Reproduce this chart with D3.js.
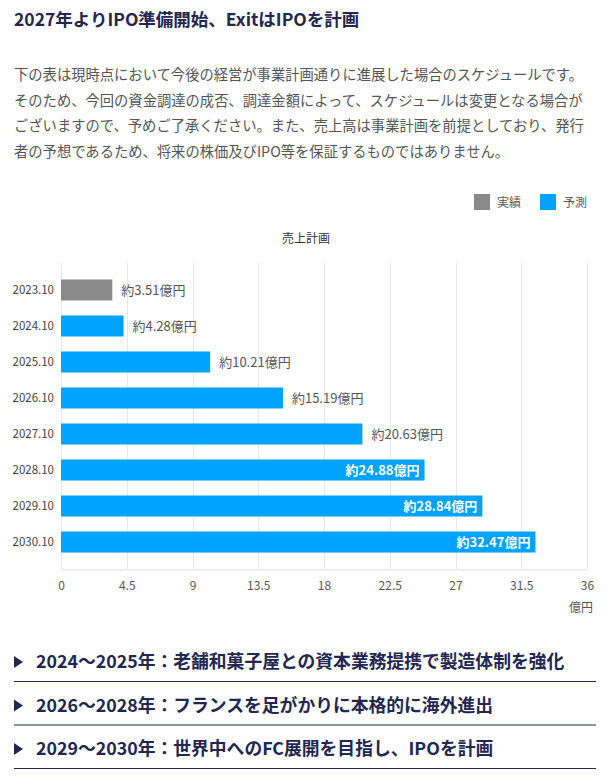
<!DOCTYPE html>
<html>
<head>
<meta charset="utf-8">
<script src="https://cdn.jsdelivr.net/npm/d3@7"></script>
<style>
  html, body { margin: 0; padding: 0; background: #fff; }
  svg { display: block; font-family: "Noto Sans CJK JP", "Noto Sans", sans-serif; }
</style>
</head>
<body>
<svg id="chart" width="615" height="781"></svg>
<script>
var categories = ["2023.10", "2024.10", "2025.10", "2026.10", "2027.10", "2028.10", "2029.10", "2030.10"]
var values = [3.51, 4.28, 10.21, 15.19, 20.63, 24.88, 28.84, 32.47]
var kinds = ["実績", "予測", "予測", "予測", "予測", "予測", "予測", "予測"]
var xTicks = [0, 4.5, 9, 13.5, 18, 22.5, 27, 31.5, 36]
var legendItems = ["実績", "予測"]

var titleText = "2027年よりIPO準備開始、ExitはIPOを計画"
var noteLines = [
  "下の表は現時点において今後の経営が事業計画通りに進展した場合のスケジュールです。",
  "そのため、今回の資金調達の成否、調達金額によって、スケジュールは変更となる場合が",
  "ございますので、予めご了承ください。また、売上高は事業計画を前提としており、発行",
  "者の予想であるため、将来の株価及びIPO等を保証するものではありません。"
]
var chartTitle = "売上計画"
var unitLabel = "億円"
var milestones = [
  "2024～2025年：老舗和菓子屋との資本業務提携で製造体制を強化",
  "2026～2028年：フランスを足がかりに本格的に海外進出",
  "2029～2030年：世界中へのFC展開を目指し、IPOを計画"
]

main()

function main() {
  var NAVY = "#23264f"
  var TEXT = "#555"
  var GRID = "#e6e6e6"
  var colors = { "実績": "#8a8a8a", "予測": "#00a2ff" }

  var LEFT = 61, RIGHT = 587, TOP = 263, BOTTOM = 569
  var INSIDE_MIN = 22

  var svg = d3.select("#chart")

  // heading + note
  svg.append("text")
      .attr("x", 14).attr("y", 26)
      .attr("fill", NAVY)
      .attr("font-size", 17.5)
      .attr("font-weight", "bold")
      .text(titleText)

  svg.selectAll(".note").data(noteLines).enter()
    .append("text")
      .attr("class", "note")
      .attr("x", 14)
      .attr("y", function(d, i) { return 80 + i * 25.7 })
      .attr("fill", TEXT)
      .attr("font-size", 14.3)
      .text(function(d) { return d })

  // legend
  var legend = svg.selectAll(".legend").data(legendItems).enter()
    .append("g")
      .attr("class", "legend")
      .attr("transform", function(d, i) { return "translate(" + (474 + i * 66) + ",194)" })
  legend.append("rect")
      .attr("width", 16).attr("height", 16)
      .attr("fill", function(d) { return colors[d] })
  legend.append("text")
      .attr("x", 23).attr("y", 12.5)
      .attr("fill", TEXT)
      .attr("font-size", 12)
      .text(function(d) { return d })

  svg.append("text")
      .attr("x", 306).attr("y", 243)
      .attr("text-anchor", "middle")
      .attr("fill", "#333")
      .attr("font-size", 12)
      .text(chartTitle)

  var x = d3.scaleLinear().domain([0, 36]).range([LEFT, RIGHT])
  var y = d3.scaleBand().domain(categories).range([TOP, BOTTOM])
      .paddingInner(0.417).paddingOuter(0.458)

  // grid
  svg.append("g").selectAll("line").data(xTicks).enter()
    .append("line")
      .attr("x1", function(d) { return Math.round(x(d)) + 0.5 })
      .attr("x2", function(d) { return Math.round(x(d)) + 0.5 })
      .attr("y1", TOP).attr("y2", BOTTOM)
      .attr("stroke", GRID)

  var xAxis = svg.append("g")
      .attr("transform", "translate(0," + (BOTTOM + 0.5) + ")")
      .call(d3.axisBottom(x).tickValues(xTicks).tickSize(0).tickPadding(12)
        .tickFormat(function(d) { return String(d) }))
  xAxis.select(".domain").attr("stroke", "#dcdcdc")
  xAxis.selectAll("text")
      .attr("fill", TEXT)
      .attr("font-size", 12)
      .attr("font-family", "'Noto Sans CJK JP', sans-serif")

  svg.append("text")
      .attr("x", RIGHT + 6).attr("y", 612)
      .attr("text-anchor", "end")
      .attr("fill", TEXT)
      .attr("font-size", 12)
      .text(unitLabel)

  var yAxis = svg.append("g")
      .attr("transform", "translate(" + LEFT + ",0)")
      .call(d3.axisLeft(y).tickSize(0).tickPadding(7))
  yAxis.select(".domain").remove()
  yAxis.selectAll("text")
      .attr("fill", "#444")
      .attr("font-size", 11.5)
      .attr("font-family", "'Noto Sans CJK JP', sans-serif")

  // bars
  svg.append("g").selectAll("rect").data(values).enter()
    .append("rect")
      .attr("x", x(0))
      .attr("y", function(d, i) { return y(categories[i]) })
      .attr("width", function(d) { return x(d) - x(0) })
      .attr("height", y.bandwidth())
      .attr("fill", function(d, i) { return colors[kinds[i]] })

  svg.append("g").selectAll("text").data(values).enter()
    .append("text")
      .attr("x", function(d) { return d > INSIDE_MIN ? x(d) - 5 : x(d) + 9 })
      .attr("y", function(d, i) { return y(categories[i]) + y.bandwidth() / 2 })
      .attr("dy", "0.36em")
      .attr("text-anchor", function(d) { return d > INSIDE_MIN ? "end" : "start" })
      .attr("fill", function(d) { return d > INSIDE_MIN ? "#fff" : TEXT })
      .attr("font-weight", function(d) { return d > INSIDE_MIN ? "bold" : "normal" })
      .attr("font-size", 13)
      .text(function(d) { return "約" + d.toFixed(2) + "億円" })

  // milestones
  var ms = svg.selectAll(".ms").data(milestones).enter()
    .append("g")
      .attr("class", "ms")
      .attr("transform", function(d, i) { return "translate(0," + (662 + i * 43.5) + ")" })
  ms.append("path")
      .attr("d", "M14,-6L23,0L14,6Z")
      .attr("fill", NAVY)
  ms.append("text")
      .attr("x", 36).attr("dy", "0.36em")
      .attr("fill", NAVY)
      .attr("font-size", 17.8)
      .attr("font-weight", "bold")
      .text(function(d) { return d })
  ms.append("line")
      .attr("x1", 14).attr("x2", 596)
      .attr("y1", 19.5).attr("y2", 19.5)
      .attr("stroke", NAVY)
      .attr("stroke-width", 1.2)
}
</script>
</body>
</html>
